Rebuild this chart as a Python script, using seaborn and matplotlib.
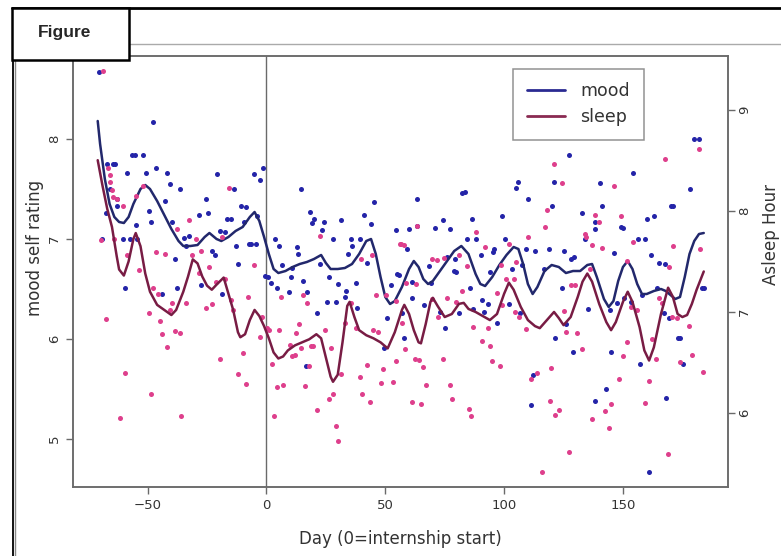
import matplotlib
matplotlib.use("Agg")
import pandas as pd
import matplotlib.pyplot as plt
import seaborn as sns
from matplotlib.lines import Line2D
from matplotlib.patches import Rectangle

# ==========================================
# Data: (day, value)

mood_points = [
    (-70.4, 8.67), (-47.6, 8.17), (-67.0, 7.75), (-64.4, 7.75), (-63.7, 7.75),
    (-56.4, 7.84), (-55.4, 7.84), (-51.8, 7.84), (-58.5, 7.66), (-50.8, 7.66),
    (-46.6, 7.71), (-41.7, 7.66), (-40.7, 7.55), (-36.5, 7.50), (-65.9, 7.50),
    (-20.7, 7.65), (-13.7, 7.50), (-5.3, 7.65), (-2.7, 7.59), (-1.5, 7.71),
    (-62.7, 7.40), (-67.6, 7.26), (-62.9, 7.33), (-42.8, 7.38), (-49.4, 7.28),
    (-48.4, 7.17), (-54.7, 7.14), (-25.6, 7.40), (-24.6, 7.26), (-28.4, 7.24),
    (-16.5, 7.20), (-14.8, 7.20), (-10.8, 7.33), (-8.7, 7.32), (-9.5, 7.17),
    (-3.9, 7.23), (-69.0, 7.00), (-60.3, 7.00), (-57.5, 7.00), (-54.3, 7.00),
    (-39.6, 7.17), (-34.7, 7.01), (-32.6, 7.03), (-33.9, 6.93), (-19.7, 7.08),
    (-17.4, 7.07), (-22.8, 6.88), (-21.6, 6.84), (-12.7, 6.93), (-7.4, 6.95),
    (-6.6, 6.95), (-4.5, 6.95), (-38.6, 6.80), (-11.8, 6.75), (3.4, 7.00),
    (5.3, 6.93), (14.4, 7.50), (18.3, 7.27), (20.0, 7.20), (19.2, 7.16),
    (24.2, 7.17), (23.4, 7.09), (31.2, 7.19), (28.1, 7.00), (35.4, 7.00),
    (39.2, 7.00), (36.0, 6.93), (41.0, 7.24), (45.2, 7.37), (44.0, 7.15),
    (34.2, 6.85), (42.4, 6.76), (54.3, 7.09), (12.7, 6.92), (13.2, 6.85),
    (6.4, 6.74), (10.8, 6.71), (22.5, 6.75), (55.0, 6.65), (127.2, 7.84),
    (154.3, 7.66), (179.7, 8.00), (182.1, 8.00), (178.1, 7.50), (120.9, 7.57),
    (105.8, 7.57), (105.1, 7.51), (140.3, 7.56), (82.4, 7.46), (83.4, 7.47),
    (63.2, 7.40), (110.0, 7.40), (120.0, 7.33), (141.0, 7.33), (132.8, 7.26),
    (170.3, 7.33), (171.1, 7.33), (163.0, 7.23), (160.2, 7.20), (99.2, 7.23),
    (86.3, 7.20), (74.3, 7.19), (60.0, 7.10), (63.5, 7.13), (70.9, 7.11),
    (77.2, 7.10), (138.2, 7.17), (138.4, 7.10), (149.0, 7.12), (149.9, 7.11),
    (156.2, 7.00), (159.2, 7.00), (59.0, 6.90), (84.2, 7.00), (88.3, 7.00),
    (100.3, 7.00), (95.7, 6.90), (95.3, 6.87), (90.4, 6.84), (109.0, 6.90),
    (113.2, 6.88), (118.8, 6.90), (125.1, 6.88), (134.2, 7.00), (162.0, 6.84),
    (146.1, 6.86), (75.8, 6.82), (79.3, 6.80), (129.3, 6.82), (128.0, 6.80),
    (165.0, 6.76), (167.9, 6.75), (103.4, 6.70), (107.6, 6.74), (94.0, 6.67),
    (78.9, 6.68), (68.4, 6.73), (116.7, 6.70), (61.4, 6.41), (66.3, 6.34),
    (69.1, 6.56), (57.9, 6.01), (57.2, 6.26), (75.1, 6.11), (73.0, 6.27),
    (81.0, 6.26), (85.5, 6.51), (87.0, 6.30), (91.5, 6.27), (93.2, 6.35),
    (90.8, 6.39), (97.1, 6.16), (102.0, 6.35), (106.6, 6.26), (124.2, 6.51),
    (121.6, 6.01), (126.1, 6.15), (128.9, 5.87), (135.2, 6.30), (144.5, 6.29),
    (147.3, 6.36), (145.0, 5.87), (150.3, 6.41), (153.2, 6.37), (158.1, 6.44),
    (157.0, 5.75), (164.4, 6.51), (167.1, 6.26), (169.2, 6.21), (173.2, 6.01),
    (174.2, 6.01), (175.1, 5.75), (183.3, 6.51), (184.2, 6.51), (112.1, 5.64),
    (111.1, 5.34), (138.2, 5.38), (142.9, 5.50), (168.1, 5.41), (160.8, 4.67),
    (61.1, 6.57), (79.6, 6.67), (-59.6, 6.51), (-43.8, 6.45), (-37.5, 6.51),
    (-27.6, 6.54), (-18.6, 6.45), (-0.8, 6.63), (1.8, 6.56), (0.8, 6.62),
    (4.5, 6.51), (9.5, 6.47), (10.2, 6.62), (15.5, 6.58), (17.1, 6.47),
    (21.3, 6.26), (16.5, 5.73), (25.5, 6.37), (29.1, 6.37), (26.3, 6.62),
    (30.2, 6.55), (32.9, 6.42), (33.3, 6.48), (37.5, 6.56), (38.2, 6.31),
    (50.8, 6.21), (52.2, 6.54), (55.7, 6.64), (49.4, 5.91),
]

sleep_points = [
    (-68.6, 9.38), (-66.6, 8.42), (-66.0, 8.35), (-65.8, 8.28), (-65.0, 8.21),
    (-64.4, 8.14), (-62.7, 8.12), (-60.3, 8.05), (-69.7, 7.71), (-64.1, 7.72),
    (-55.0, 8.15), (-51.9, 8.25), (-15.8, 8.23), (-32.6, 7.91), (-37.5, 7.82),
    (-29.7, 7.72), (-18.6, 7.74), (-46.6, 7.59), (-42.8, 7.57), (-31.2, 7.56),
    (-27.6, 7.60), (-58.5, 7.56), (-53.6, 7.41), (-24.2, 7.44), (-5.3, 7.46),
    (22.5, 7.75), (39.8, 7.52), (44.5, 7.56), (56.1, 7.67), (-67.6, 6.93),
    (-61.7, 5.95), (-59.6, 6.40), (-48.4, 6.19), (-49.4, 6.99), (-47.7, 7.24),
    (-45.6, 7.18), (-44.7, 6.91), (-43.8, 6.78), (-41.7, 6.65), (-40.7, 7.02),
    (-39.6, 7.09), (-38.6, 6.81), (-36.5, 6.79), (-35.8, 5.97), (-33.7, 7.09),
    (-28.4, 7.39), (-25.6, 7.04), (-22.8, 7.08), (-21.4, 7.30), (-17.6, 7.33),
    (-19.5, 6.54), (-15.0, 7.12), (-13.9, 7.02), (-11.8, 6.39), (-9.9, 6.59),
    (-8.7, 6.29), (-7.8, 7.15), (-2.9, 6.75), (-1.8, 6.95), (0.1, 6.84),
    (1.0, 6.82), (5.3, 6.82), (2.4, 6.49), (4.3, 6.26), (7.1, 6.28),
    (3.2, 5.97), (6.2, 7.15), (12.3, 6.79), (13.7, 6.88), (9.9, 6.67),
    (10.8, 6.56), (11.8, 6.57), (14.4, 6.64), (19.7, 6.66), (18.8, 6.66),
    (17.1, 7.09), (15.5, 7.17), (17.9, 6.47), (16.2, 6.27), (24.5, 6.82),
    (27.0, 6.64), (21.3, 6.03), (26.3, 6.14), (28.1, 6.19), (29.1, 5.87),
    (30.2, 5.72), (31.2, 6.39), (32.9, 6.89), (35.4, 7.09), (37.5, 6.84),
    (39.2, 6.36), (40.0, 6.19), (42.4, 6.48), (43.4, 6.11), (44.9, 6.82),
    (46.8, 6.80), (46.3, 7.17), (50.1, 7.17), (48.2, 6.30), (53.3, 6.31),
    (49.1, 6.44), (54.3, 6.52), (57.1, 6.89), (54.7, 7.11), (58.6, 7.29),
    (62.8, 7.28), (58.2, 6.63), (62.4, 6.54), (64.2, 6.53), (66.0, 6.46),
    (67.0, 6.28), (61.1, 6.11), (65.2, 6.09), (69.8, 7.13), (72.2, 6.95),
    (74.3, 6.54), (76.1, 7.14), (79.6, 7.10), (77.2, 6.28), (78.2, 6.14),
    (82.1, 7.21), (85.2, 6.04), (86.2, 5.97), (87.1, 6.85), (90.8, 6.71),
    (94.0, 6.66), (93.2, 6.84), (95.0, 6.52), (98.1, 6.47), (97.1, 7.19),
    (99.2, 7.07), (101.0, 7.33), (104.5, 7.00), (106.2, 6.95), (104.1, 7.33),
    (109.0, 6.83), (111.1, 6.34), (113.9, 6.40), (116.0, 5.42), (119.1, 6.12),
    (119.9, 6.45), (121.6, 5.98), (123.3, 6.03), (125.1, 7.01), (126.1, 6.80),
    (127.2, 5.62), (128.2, 7.27), (130.0, 7.27), (130.8, 6.79), (132.9, 6.63),
    (137.1, 5.94), (142.6, 6.02), (145.0, 6.09), (144.3, 5.85), (148.2, 6.34),
    (149.9, 6.56), (151.8, 6.70), (153.2, 7.05), (156.0, 7.02), (159.2, 6.10),
    (160.8, 6.32), (162.3, 6.73), (164.1, 6.54), (165.0, 7.14), (168.8, 5.60),
    (170.7, 6.95), (172.8, 6.94), (173.9, 6.51), (177.9, 6.86), (179.1, 6.57),
    (183.7, 6.41), (166.5, 7.09), (120.9, 8.46), (124.2, 8.27), (146.1, 8.25),
    (167.9, 8.51), (181.8, 8.61), (118.1, 8.01), (117.0, 7.84), (138.2, 7.96),
    (139.8, 7.89), (149.0, 7.95), (63.2, 7.85), (88.0, 7.79), (110.0, 7.74),
    (134.0, 7.77), (134.5, 7.74), (137.0, 7.66), (141.0, 7.63), (154.1, 7.69),
    (171.1, 7.65), (182.6, 7.62), (91.9, 7.64), (102.0, 7.67), (56.5, 7.67),
    (57.9, 7.66), (69.8, 7.52), (71.9, 7.51), (74.5, 7.53), (81.0, 7.56),
    (84.2, 7.45), (98.5, 7.46), (104.8, 7.49), (136.3, 7.42), (151.8, 7.50),
    (169.2, 7.44),
]

# smoothed curves, read at roughly every 2-3 days
mood_curve = [
    (-71, 8.18), (-70, 7.95), (-68, 7.60), (-66, 7.35), (-64, 7.22), (-62, 7.17),
    (-60, 7.16), (-58, 7.22), (-56, 7.35), (-53, 7.50), (-51, 7.54), (-49, 7.50),
    (-46, 7.38), (-43, 7.24), (-40, 7.10), (-37, 6.98), (-35, 6.93), (-32, 6.93),
    (-29, 6.94), (-26, 7.02), (-24, 7.06), (-21, 7.00), (-19, 6.98), (-16, 7.02),
    (-13, 7.08), (-10, 7.12), (-7, 7.22), (-5, 7.27), (-3, 7.18), (-1, 7.02),
    (1, 6.85), (3, 6.70), (5, 6.66), (8, 6.68), (11, 6.72), (14, 6.75),
    (17, 6.77), (20, 6.80), (23, 6.84), (25, 6.76), (27, 6.70), (30, 6.70),
    (33, 6.71), (36, 6.75), (39, 6.85), (42, 6.98), (44, 7.00), (46, 6.85),
    (48, 6.62), (50, 6.42), (52, 6.35), (54, 6.38), (57, 6.52), (60, 6.70),
    (62, 6.78), (64, 6.72), (66, 6.60), (68, 6.55), (70, 6.58), (73, 6.68),
    (76, 6.78), (79, 6.88), (82, 6.93), (85, 6.85), (88, 6.65), (90, 6.55),
    (92, 6.53), (95, 6.62), (98, 6.74), (101, 6.84), (104, 6.92), (106, 6.90),
    (108, 6.75), (110, 6.55), (112, 6.45), (114, 6.52), (117, 6.68), (120, 6.74),
    (123, 6.72), (126, 6.66), (129, 6.68), (132, 6.68), (135, 6.74), (137, 6.75),
    (139, 6.62), (142, 6.40), (144, 6.32), (146, 6.38), (148, 6.58), (150, 6.72),
    (152, 6.78), (154, 6.70), (156, 6.55), (158, 6.45), (160, 6.45), (163, 6.48),
    (166, 6.50), (168, 6.48), (170, 6.44), (172, 6.40), (174, 6.42), (176, 6.62),
    (178, 6.85), (180, 6.98), (182, 7.05), (184, 7.06),
]

sleep_curve = [
    (-71, 8.50), (-69, 8.25), (-67, 8.02), (-65, 7.84), (-63, 7.55), (-62, 7.42),
    (-60, 7.36), (-58, 7.50), (-56, 7.72), (-55, 7.78), (-53, 7.65), (-51, 7.38),
    (-49, 7.20), (-46, 7.07), (-43, 7.02), (-40, 6.97), (-38, 7.02), (-35, 7.20),
    (-33, 7.35), (-31, 7.52), (-29, 7.48), (-27, 7.35), (-25, 7.26), (-23, 7.22),
    (-21, 7.27), (-18, 7.34), (-16, 7.18), (-14, 7.02), (-12, 6.80), (-11, 6.75),
    (-9, 6.78), (-7, 6.92), (-5, 7.02), (-3, 6.96), (-1, 6.86), (1, 6.74),
    (3, 6.60), (5, 6.54), (7, 6.56), (9, 6.62), (12, 6.67), (15, 6.70),
    (18, 6.73), (21, 6.78), (23, 6.74), (25, 6.55), (27, 6.36), (28, 6.31),
    (30, 6.38), (32, 6.70), (34, 7.06), (35, 7.10), (37, 6.95), (39, 6.82),
    (42, 6.77), (45, 6.74), (48, 6.70), (51, 6.64), (54, 6.80), (57, 7.02),
    (58, 7.07), (60, 6.98), (62, 6.82), (64, 6.70), (65, 6.69), (67, 6.88),
    (69, 7.10), (70, 7.14), (72, 7.06), (75, 6.95), (78, 6.98), (81, 7.08),
    (83, 7.09), (85, 7.03), (88, 7.00), (91, 6.96), (94, 6.92), (97, 6.98),
    (100, 7.18), (102, 7.29), (104, 7.22), (107, 7.05), (110, 6.92), (113, 6.86),
    (115, 6.84), (118, 6.92), (121, 7.00), (123, 6.94), (125, 6.87), (128, 6.95),
    (131, 7.15), (133, 7.30), (135, 7.38), (137, 7.30), (140, 7.08), (143, 6.90),
    (145, 6.82), (147, 6.90), (150, 7.10), (152, 7.20), (154, 7.10), (157, 6.85),
    (159, 6.62), (161, 6.52), (163, 6.65), (166, 6.98), (169, 7.24), (171, 7.15),
    (173, 6.98), (175, 6.95), (177, 6.97), (179, 7.08), (181, 7.22), (184, 7.40),
]

x_ticks = [-50, 0, 50, 100, 150]
mood_ticks = [5, 6, 7, 8]
sleep_ticks = [6, 7, 8, 9]

mood_df = pd.DataFrame(mood_points, columns=["day", "mood"])
sleep_df = pd.DataFrame(sleep_points, columns=["day", "sleep"])
mood_line = pd.DataFrame(mood_curve, columns=["day", "mood"])
sleep_line = pd.DataFrame(sleep_curve, columns=["day", "sleep"])

# ==========================================
# Plot

sns.set_style("white")
plt.rcParams["font.family"] = ["DejaVu Sans"]

dot_blue = "#2424a8"
dot_pink = "#de3f8c"
line_blue = "#22286c"
line_red = "#781c44"
grey = "#6a6a6a"
txt = "#333333"

fig = plt.figure(figsize=(7.81, 5.56), dpi=100)
ax = fig.add_axes([73 / 781, 1 - 487 / 556, 655 / 781, 431 / 556])
ax2 = ax.twinx()

ax.axvline(0, color=grey, lw=1, zorder=1)

sns.scatterplot(data=mood_df, x="day", y="mood", ax=ax, color=dot_blue,
                s=13, linewidth=0, zorder=2)
sns.lineplot(data=mood_line, x="day", y="mood", ax=ax, color=line_blue,
             lw=1.8, zorder=3)
sns.scatterplot(data=sleep_df, x="day", y="sleep", ax=ax2, color=dot_pink,
                s=13, linewidth=0, zorder=2)
sns.lineplot(data=sleep_line, x="day", y="sleep", ax=ax2, color=line_red,
             lw=1.8, zorder=3)

ax.set_xlim(-81.4, 194.2)
ax.set_ylim(4.52, 8.83)
ax2.set_ylim(5.27, 9.53)
ax.set_xticks(x_ticks)
ax.set_yticks(mood_ticks)
ax2.set_yticks(sleep_ticks)

for a in (ax, ax2):
    for sp in a.spines.values():
        sp.set_color(grey)
        sp.set_linewidth(1.1)
    a.tick_params(direction="out", length=5, width=1, color=grey,
                  labelsize=9.5, labelcolor=txt)
ax.tick_params(axis="y", labelrotation=90, left=True)
ax.tick_params(axis="x", bottom=True)
ax2.tick_params(axis="y", labelrotation=90, right=True, pad=2)
for lab in ax.get_yticklabels() + ax2.get_yticklabels():
    lab.set_verticalalignment("center")

ax.set_xlabel("Day (0=internship start)", fontsize=12, color=txt)
ax.set_ylabel("mood self rating", fontsize=12, color=txt)
ax2.set_ylabel("Asleep Hour", fontsize=12, color=txt)
ax.xaxis.set_label_coords(0.5, -0.10)
ax.yaxis.set_label_coords(-0.045, 0.555)
ax2.yaxis.set_label_coords(1.052, 0.585)

handles = [Line2D([], [], color="#2a2a92", lw=2.0),
           Line2D([], [], color="#8a2a52", lw=2.0)]
leg = ax2.legend(handles, ["mood", "sleep"], loc="upper left",
                 bbox_to_anchor=(0.658, 0.991), frameon=True, fancybox=False,
                 edgecolor="#777777", fontsize=12.5, handlelength=2.2,
                 handletextpad=0.9, borderpad=0.8, labelspacing=0.45)
leg.get_frame().set_linewidth(1.1)
for t in leg.get_texts():
    t.set_color(txt)

# page frame and "Figure" tab
fig.add_artist(Line2D([12 / 781, 1], [1 - 8 / 556] * 2, color="black", lw=2,
                      transform=fig.transFigure, zorder=5))
fig.add_artist(Line2D([129 / 781, 1], [1 - 44 / 556] * 2, color="#aaaaaa", lw=1,
                      transform=fig.transFigure, zorder=5))
fig.add_artist(Line2D([12.5 / 781] * 2, [0, 1 - 8 / 556], color="black", lw=1.3,
                      transform=fig.transFigure, zorder=5))
fig.add_artist(Line2D([15 / 781] * 2, [0, 1 - 60 / 556], color="#888888", lw=1,
                      transform=fig.transFigure, zorder=5))
fig.add_artist(Rectangle((12 / 781, 1 - 60 / 556), 117 / 781, 52 / 556,
                         facecolor="white", edgecolor="black", lw=1.8,
                         transform=fig.transFigure, zorder=6))
fig.text(65 / 781, 1 - 33 / 556, "Figure", fontsize=12.5, fontweight="bold",
         family=["Liberation Sans", "DejaVu Sans"], ha="center", va="center",
         zorder=7)

fig.savefig("out.png", dpi=100)
